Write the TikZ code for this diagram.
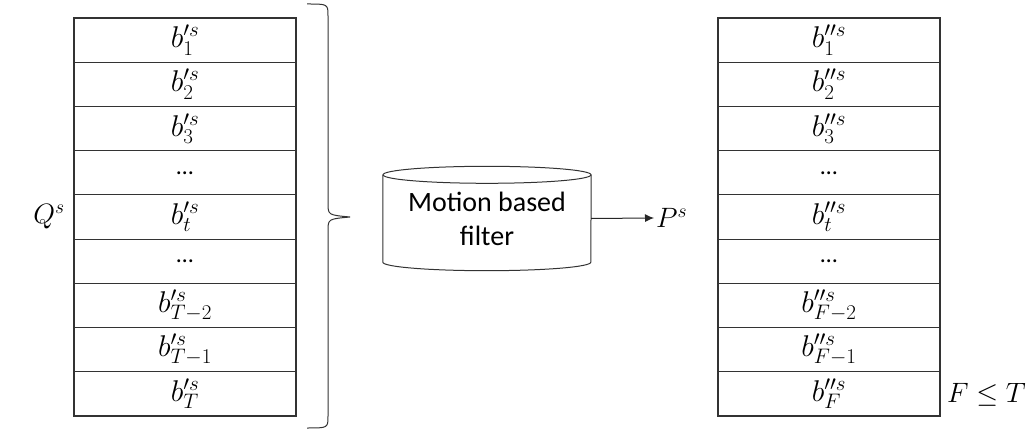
\RequirePackage{fix-cm}
\documentclass[tikz,border=0pt]{standalone}
\usepackage{fontspec}
\setmainfont{Carlito}
\usetikzlibrary{arrows.meta}
\tikzset{
	cell/.style={draw=black!80, line width=1.1pt, minimum width=222pt, minimum height=44.2pt, inner sep=0pt, font=\fontsize{30}{32}\selectfont},
	dots/.style={cell, font=\fontsize{24}{28}\selectfont},
	lbl/.style={inner sep=2pt, font=\fontsize{28}{32}\selectfont},
	filterbox/.style={minimum width=208pt, minimum height=87pt, inner sep=0pt, align=center, font=\fontsize{28}{34}\selectfont}
}
\begin{document}
\begin{tikzpicture}[x=1pt, y=-1pt]
		\useasboundingbox (0,0) rectangle (1028,430);
		% input boxes
		\node[cell] (q1) at (185, 40.1) {$b_1^{\prime s}$};
		\node[cell] (q2) at (185, 84.3) {$b_2^{\prime s}$};
		\node[cell] (q3) at (185, 128.5) {$b_3^{\prime s}$};
		\node[dots] (q4) at (185, 172.8) {…};
		\node[cell] (q5) at (185, 217.0) {$b_t^{\prime s}$};
		\node[dots] (q6) at (185, 261.2) {…};
		\node[cell] (q7) at (185, 305.4) {$b_{T-2}^{\prime s}$};
		\node[cell] (q8) at (185, 349.7) {$b_{T-1}^{\prime s}$};
		\node[cell] (q9) at (185, 393.9) {$b_T^{\prime s}$};
		\node[lbl] (qs) at (49, 217) {$Q^s$};
		% brace
		\draw[black!80, line width=1pt] (307,4) .. controls (328,4) .. (328,16) -- (328,203)
			.. controls (328,215) .. (350,217) .. controls (328,219) .. (328,231)
			-- (328,416) .. controls (328,428) .. (307,428);
		% filter
		\node[filterbox] (filt) at (487, 218.5) {Motion based\\filter};
		\draw[black!80, line width=1pt] (filt.north west) -- (filt.south west)
			arc[start angle=180, end angle=360, x radius=104pt, y radius=8.5pt]
			-- (filt.north east);
		\draw[black!80, line width=1pt] (filt.north) ellipse [x radius=104pt, y radius=8.5pt];
		\node[lbl, anchor=west] (ps) at (654, 218) {$P^s$};
		\draw[-{Latex[length=9pt, width=8pt]}, black!85, line width=1pt] (filt.east) -- (ps.west);
		% output boxes
		\node[cell] (p1) at (829, 40.1) {$b_1^{\prime\prime s}$};
		\node[cell] (p2) at (829, 84.3) {$b_2^{\prime\prime s}$};
		\node[cell] (p3) at (829, 128.5) {$b_3^{\prime\prime s}$};
		\node[dots] (p4) at (829, 172.8) {…};
		\node[cell] (p5) at (829, 217.0) {$b_t^{\prime\prime s}$};
		\node[dots] (p6) at (829, 261.2) {…};
		\node[cell] (p7) at (829, 305.4) {$b_{F-2}^{\prime\prime s}$};
		\node[cell] (p8) at (829, 349.7) {$b_{F-1}^{\prime\prime s}$};
		\node[cell] (p9) at (829, 393.9) {$b_F^{\prime\prime s}$};
		\node[lbl, anchor=east] (cond) at (1028, 395) {$F \le T$};
\end{tikzpicture}
\end{document}
